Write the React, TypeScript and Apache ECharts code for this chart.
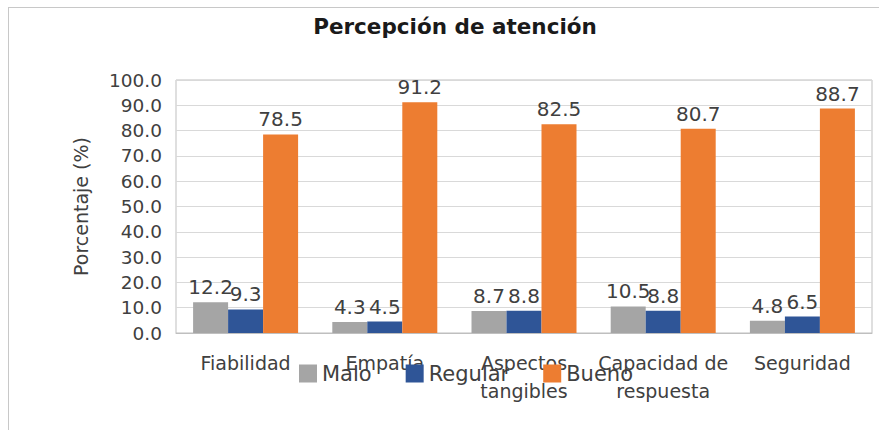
import React, { useEffect, useRef } from "react";
import * as echarts from "echarts";

const categories = ["Fiabilidad", "Empatía", "Aspectos\ntangibles", "Capacidad de\nrespuesta", "Seguridad"];
const malo = [12.2, 4.3, 8.7, 10.5, 4.8];
const regular = [9.3, 4.5, 8.8, 8.8, 6.5];
const bueno = [78.5, 91.2, 82.5, 80.7, 88.7];
const seriesNames = ["Malo", "Regular", "Bueno"];
const colors = ["#A5A5A5", "#2F5597", "#ED7D31"];
const titleText = "Percepción de atención";
const yAxisName = "Porcentaje (%)";

const FONT = "DejaVu Sans";
const TEXT = "#404040";

export default function App() {
  const ref = useRef<HTMLDivElement>(null);
  useEffect(() => {
    if (!ref.current) return;
    const chart = echarts.init(ref.current, null, { renderer: "svg" });
    const values = [malo, regular, bueno];
    chart.setOption({
      animation: false,
      backgroundColor: "#ffffff",
      graphic: [
        { type: "line", shape: { x1: 8, y1: 7.5, x2: 879, y2: 7.5 }, style: { stroke: "#c8c8c8", lineWidth: 1 } },
        { type: "line", shape: { x1: 8.5, y1: 7, x2: 8.5, y2: 430 }, style: { stroke: "#c8c8c8", lineWidth: 1 } },
        {
          type: "text",
          x: 455,
          y: 26,
          style: {
            text: titleText,
            align: "center",
            verticalAlign: "middle",
            fontFamily: FONT,
            fontWeight: "bold",
            fontSize: 21.5,
            fill: "#1a1a1a",
          },
        },
      ],
      grid: {
        left: 176,
        right: 16,
        top: 80,
        bottom: 97,
        show: true,
        borderColor: "#bfbfbf",
        borderWidth: 1,
        containLabel: false,
      },
      legend: {
        data: seriesNames,
        left: 299,
        top: 363,
        padding: 0,
        itemWidth: 18,
        itemHeight: 18,
        itemGap: 34,
        icon: "rect",
        textStyle: { fontFamily: FONT, fontSize: 21, color: TEXT, padding: [4, 0, 0, 0] },
      },
      xAxis: {
        type: "category",
        data: categories,
        axisTick: { show: false },
        axisLine: { show: true, lineStyle: { color: "#bfbfbf" } },
        axisLabel: {
          fontFamily: FONT,
          fontSize: 19,
          color: TEXT,
          lineHeight: 28,
          margin: 16,
          interval: 0,
        },
      },
      yAxis: {
        type: "value",
        min: 0,
        max: 100,
        interval: 10,
        name: yAxisName,
        nameLocation: "middle",
        nameGap: 86,
        nameTextStyle: { fontFamily: FONT, fontSize: 19, color: TEXT },
        axisLine: { show: false },
        axisTick: { show: false },
        splitLine: { lineStyle: { color: "#d9d9d9", width: 1 } },
        axisLabel: {
          fontFamily: FONT,
          fontSize: 18.5,
          color: TEXT,
          margin: 14,
          formatter: (v: number) => v.toFixed(1),
        },
      },
      series: seriesNames.map((name, i) => ({
        name,
        type: "bar",
        data: values[i],
        barWidth: 35,
        barGap: "0%",
        itemStyle: { color: colors[i] },
        label: {
          show: true,
          position: "top",
          distance: 5,
          fontFamily: FONT,
          fontSize: 20,
          color: TEXT,
          formatter: (p: any) => Number(p.value).toFixed(1),
        },
      })),
    });
    return () => chart.dispose();
  }, []);
  return (
    <div
      ref={ref}
      style={{ position: "fixed", left: 0, top: 0, width: 888, height: 430 }}
    />
  );
}
